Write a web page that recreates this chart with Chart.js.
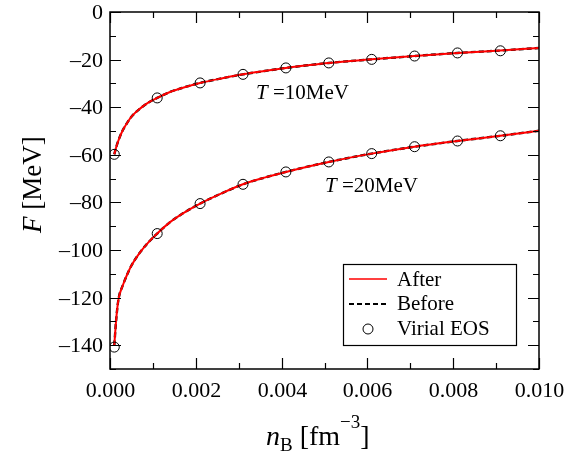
<!DOCTYPE html>
<html>
<head>
<meta charset="utf-8">
<script src="https://cdn.jsdelivr.net/npm/chart.js@4"></script>
<style>
  html, body { margin: 0; padding: 0; background: #fff; }
  #wrap { width: 569px; height: 453px; }
</style>
</head>
<body>
<div id="wrap"><canvas id="chart" width="569" height="453"></canvas></div>
<script>
// Данные
const nCurve = [0.0001, 0.00015, 0.0002, 0.0003, 0.0004, 0.0005, 0.0007, 0.0009, 0.0011, 0.0014,
  0.0017, 0.0021, 0.0026, 0.0031, 0.0036, 0.0041, 0.0046, 0.0051, 0.0061, 0.0071, 0.0081, 0.0091, 0.01];
const after10 = [-59.8, -56.5, -53.8, -49.6, -46.6, -44.0, -40.6, -38.0, -36.1, -33.6,
  -31.8, -29.8, -27.9, -26.2, -24.8, -23.5, -22.4, -21.4, -19.9, -18.5, -17.2, -16.2, -15.1];
const before10 = [-59.8, -56.5, -53.8, -49.6, -46.6, -44.0, -40.6, -38.0, -36.1, -33.6,
  -31.8, -29.8, -27.9, -26.2, -24.8, -23.5, -22.4, -21.4, -19.9, -18.5, -17.2, -16.2, -15.1];
const after20 = [-140.0, -128.0, -120.5, -114.8, -110.3, -106.5, -101.0, -96.7, -93.1, -88.3,
  -84.6, -80.5, -76.2, -72.4, -69.6, -67.2, -65.0, -63.0, -59.5, -56.6, -54.2, -52.0, -49.9];
const before20 = [-140.0, -128.0, -120.5, -114.8, -110.3, -106.5, -101.0, -96.7, -93.1, -88.3,
  -84.6, -80.5, -76.2, -72.4, -69.6, -67.2, -65.0, -63.0, -59.5, -56.6, -54.2, -52.0, -49.9];
const nVirial = [0.0001, 0.0011, 0.0021, 0.0031, 0.0041, 0.0051, 0.0061, 0.0071, 0.0081, 0.0091];
const virial10 = [-59.8, -36.1, -29.8, -26.2, -23.5, -21.4, -19.9, -18.5, -17.2, -16.3];
const virial20 = [-140.8, -93.1, -80.5, -72.4, -67.2, -63.0, -59.5, -56.6, -54.2, -52.0];
const legendLabels = ['After', 'Before', 'Virial EOS'];
const curveLabels = ['10MeV', '20MeV'];

const SERIF = "'Liberation Serif', 'DejaVu Serif', serif";
const toPoints = (xs, ys) => xs.map((x, i) => ({ x, y: ys[i] }));

// Рамка, внутренние засечки, подписи и легенда
const framePlugin = {
  id: 'framePlugin',
  afterDraw(chart) {
    const { ctx, chartArea: { left, top, right, bottom }, scales: { x, y } } = chart;
    ctx.save();
    ctx.strokeStyle = '#000';
    ctx.lineWidth = 1.5;
    ctx.strokeRect(left, top, right - left, bottom - top);

    ctx.fillStyle = '#000';
    ctx.font = `22px ${SERIF}`;
    ctx.lineWidth = 1.2;
    ctx.beginPath();
    x.ticks.forEach((t, i) => {
      const px = Math.round(x.getPixelForValue(t.value)) + 0.5;
      const major = i % 2 === 0;
      const len = major ? 11 : 6;
      ctx.moveTo(px, bottom); ctx.lineTo(px, bottom - len);
      ctx.moveTo(px, top); ctx.lineTo(px, top + len);
      if (major) {
        ctx.textAlign = 'center';
        ctx.textBaseline = 'alphabetic';
        ctx.fillText(t.value.toFixed(3), px, 397);
      }
    });
    y.ticks.forEach((t) => {
      const py = Math.round(y.getPixelForValue(t.value)) + 0.5;
      const v = Math.round(t.value);
      const major = v % 20 === 0;
      const len = major ? 11 : 6;
      ctx.moveTo(left, py); ctx.lineTo(left + len, py);
      ctx.moveTo(right, py); ctx.lineTo(right - len, py);
      if (major) {
        ctx.textAlign = 'right';
        ctx.textBaseline = 'middle';
        const txt = v < 0 ? `\u2013${-v}` : String(v);
        ctx.fillText(txt, left - 7, py + 1);
      }
    });
    ctx.stroke();

    ctx.textBaseline = 'alphabetic';
    ctx.textAlign = 'left';

    // Подписи кривых
    const label = (px, py, rest) => {
      ctx.font = `italic 21px ${SERIF}`;
      ctx.fillText('T', px, py);
      const w = ctx.measureText('T').width;
      ctx.font = `21px ${SERIF}`;
      ctx.fillText(` =${rest}`, px + w, py);
    };
    label(256, 99, curveLabels[0]);
    label(325, 192, curveLabels[1]);

    // Подпись оси X
    ctx.font = `italic 28px ${SERIF}`;
    ctx.fillText('n', 266, 445);
    let cx = 266 + ctx.measureText('n').width;
    ctx.font = `19px ${SERIF}`;
    ctx.fillText('B', cx, 451);
    cx += ctx.measureText('B').width;
    ctx.font = `28px ${SERIF}`;
    ctx.fillText(' [fm', cx, 445);
    cx += ctx.measureText(' [fm').width;
    ctx.font = `19px ${SERIF}`;
    ctx.fillText('\u22123', cx, 428);
    cx += ctx.measureText('\u22123').width;
    ctx.font = `28px ${SERIF}`;
    ctx.fillText(']', cx, 445);

    // Подпись оси Y
    ctx.save();
    ctx.translate(41, 233);
    ctx.rotate(-Math.PI / 2);
    ctx.font = `italic 27px ${SERIF}`;
    ctx.fillText('F', 0, 0);
    const fw = ctx.measureText('F').width;
    ctx.font = `27px ${SERIF}`;
    ctx.fillText(' [MeV]', fw, 0);
    ctx.restore();

    // Легенда
    ctx.lineWidth = 1.2;
    ctx.strokeRect(343.5, 264.5, 173, 81);
    ctx.font = `21px ${SERIF}`;
    ctx.textBaseline = 'middle';
    ctx.strokeStyle = '#ff0000';
    ctx.lineWidth = 1.5;
    ctx.beginPath(); ctx.moveTo(349, 279); ctx.lineTo(387, 279); ctx.stroke();
    ctx.strokeStyle = '#000';
    ctx.setLineDash([5, 3]);
    ctx.lineWidth = 2;
    ctx.beginPath(); ctx.moveTo(349, 304); ctx.lineTo(387, 304); ctx.stroke();
    ctx.setLineDash([]);
    ctx.lineWidth = 1;
    ctx.beginPath(); ctx.arc(368, 329, 5, 0, Math.PI * 2); ctx.stroke();
    ctx.fillText(legendLabels[0], 397, 280);
    ctx.fillText(legendLabels[1], 397, 304);
    ctx.fillText(legendLabels[2], 397, 329);
    ctx.restore();
  },
};

const lineStyle = (color, dash, width) => ({
  showLine: true,
  borderColor: color,
  borderWidth: width,
  borderDash: dash,
  pointRadius: 0,
  fill: false,
  tension: 0.4,
  cubicInterpolationMode: 'monotone',
});
const circleStyle = {
  showLine: false,
  pointRadius: 5,
  pointStyle: 'circle',
  pointBorderColor: '#000',
  pointBorderWidth: 1,
  pointBackgroundColor: 'rgba(0,0,0,0)',
};

// Меньший order рисуется поверх: кружки, затем красная, затем пунктир
const chart = new Chart(document.getElementById('chart'), {
  type: 'scatter',
  data: {
    datasets: [
      { data: toPoints(nVirial, virial10), ...circleStyle, order: 0 },
      { data: toPoints(nVirial, virial20), ...circleStyle, order: 0 },
      { data: toPoints(nCurve, after10), ...lineStyle('#ff0000', [], 2.0), order: 1 },
      { data: toPoints(nCurve, after20), ...lineStyle('#ff0000', [], 2.0), order: 1 },
      { data: toPoints(nCurve, before10), ...lineStyle('#000', [5, 3], 2.4), order: 2 },
      { data: toPoints(nCurve, before20), ...lineStyle('#000', [5, 3], 2.4), order: 2 },
    ],
  },
  options: {
    responsive: false,
    animation: false,
    layout: { padding: { left: 0, top: 12, right: 30, bottom: 0 } },
    scales: {
      x: {
        type: 'linear',
        min: 0,
        max: 0.01,
        grid: { display: false, drawTicks: false },
        border: { display: false },
        afterFit: (s) => { s.height = 84; },
        ticks: { stepSize: 0.001, autoSkip: false, display: false },
      },
      y: {
        type: 'linear',
        min: -150,
        max: 0,
        grid: { display: false, drawTicks: false },
        border: { display: false },
        afterFit: (s) => { s.width = 110; },
        ticks: { stepSize: 10, autoSkip: false, display: false },
      },
    },
    plugins: {
      legend: { display: false },
      tooltip: { enabled: false },
    },
  },
  plugins: [framePlugin],
});
</script>
</body>
</html>
